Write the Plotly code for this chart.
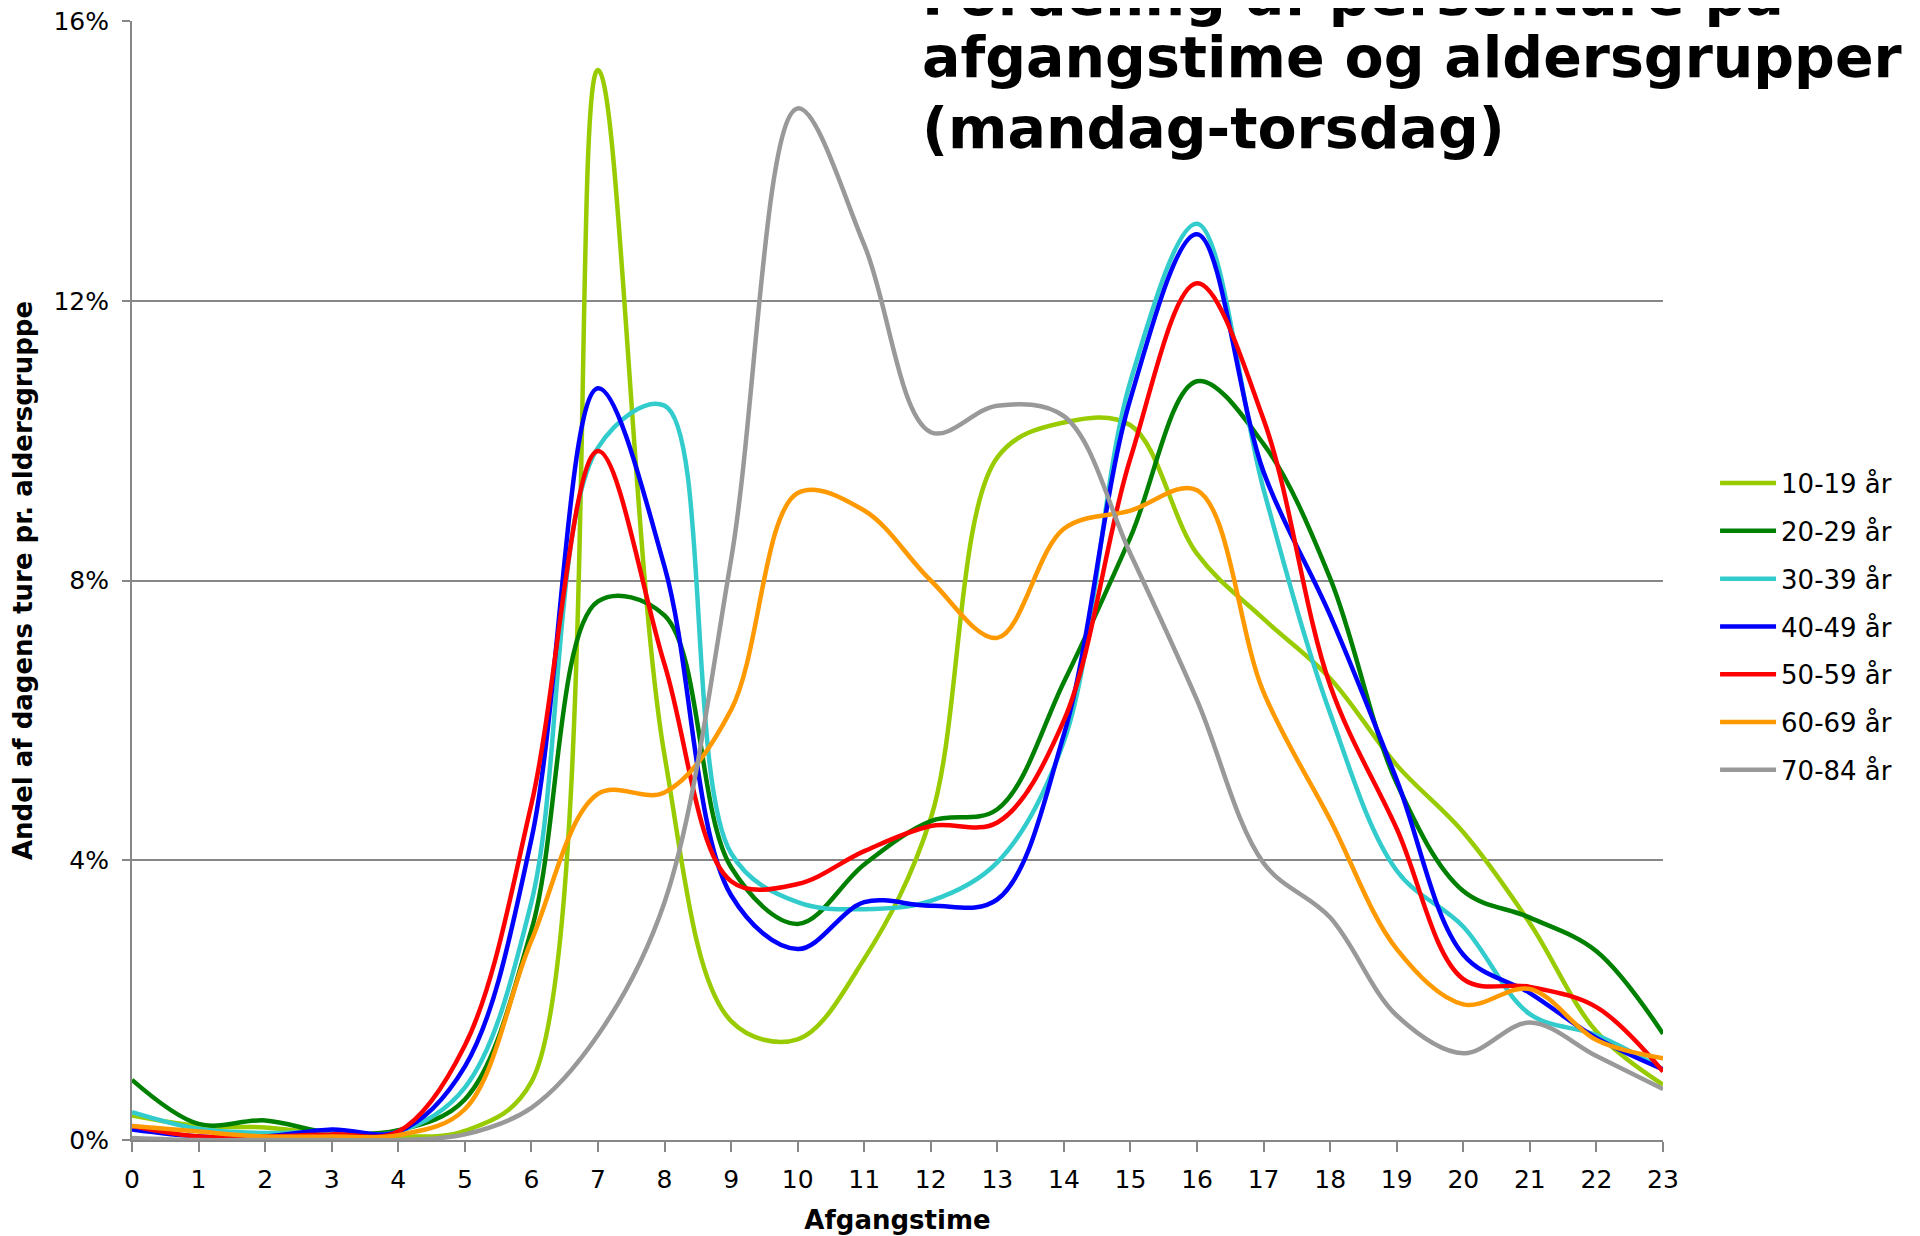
import plotly.graph_objects as go

hours = list(range(24))
hour_labels = [str(h) for h in hours]

series_names = ["10-19 år", "20-29 år", "30-39 år", "40-49 år", "50-59 år", "60-69 år", "70-84 år"]

v10_19 = [0.35, 0.2, 0.18, 0.08, 0.05, 0.13, 0.83, 15.3, 5.5, 1.7, 1.44, 2.59, 4.6, 9.76, 10.26, 10.22, 8.38, 7.45, 6.6, 5.36, 4.4, 3.1, 1.55, 0.79]
v20_29 = [0.86, 0.23, 0.28, 0.1, 0.14, 0.58, 3.0, 7.7, 7.5, 3.9, 3.09, 3.94, 4.56, 4.73, 6.55, 8.62, 10.85, 9.95, 8.03, 5.1, 3.56, 3.18, 2.7, 1.52]
v30_39 = [0.4, 0.16, 0.1, 0.12, 0.12, 0.75, 3.4, 9.9, 10.5, 4.1, 3.4, 3.3, 3.42, 3.97, 5.7, 10.85, 13.1, 9.3, 6.1, 3.85, 3.05, 1.8, 1.5, 1.01]
v40_49 = [0.15, 0.05, 0.05, 0.15, 0.12, 1.05, 4.3, 10.75, 8.2, 3.5, 2.73, 3.4, 3.35, 3.44, 5.8, 10.6, 12.95, 9.55, 7.5, 5.15, 2.65, 2.1, 1.46, 1.01]
v50_59 = [0.2, 0.05, 0.05, 0.08, 0.12, 1.35, 4.8, 9.85, 6.8, 3.7, 3.66, 4.13, 4.49, 4.54, 6.0, 9.75, 12.25, 10.3, 6.5, 4.45, 2.3, 2.19, 1.9, 0.98]
v60_69 = [0.2, 0.12, 0.05, 0.05, 0.07, 0.44, 2.85, 4.95, 4.97, 6.15, 9.25, 9.0, 8.0, 7.18, 8.74, 9.0, 9.29, 6.4, 4.58, 2.73, 1.94, 2.16, 1.43, 1.17]
v70_84 = [0.03, 0.0, 0.0, 0.0, 0.0, 0.08, 0.46, 1.5, 3.4, 8.3, 14.75, 12.8, 10.12, 10.5, 10.35, 8.38, 6.29, 3.96, 3.18, 1.78, 1.24, 1.68, 1.2, 0.73]

colors = ["#99CC00", "#008000", "#33CCCC", "#0000FF", "#FF0000", "#FF9900", "#999999"]
y_ticks = [0, 4, 8, 12, 16]
y_tick_labels = ["0%", "4%", "8%", "12%", "16%"]

title_lines = ["Fordeling af personture på", "afgangstime og aldersgrupper", "(mandag-torsdag)"]
x_title = "Afgangstime"
y_title = "Andel af dagens ture pr. aldersgruppe"

all_series = [v10_19, v20_29, v30_39, v40_49, v50_59, v60_69, v70_84]

FONT = "DejaVu Sans"
GRID = "#878787"

fig = go.Figure()
for name, vals, col in zip(series_names, all_series, colors):
    fig.add_trace(go.Scatter(
        x=hours, y=vals, name=name, mode="lines",
        line=dict(color=col, width=4.5, shape="spline", smoothing=1.0),
        legendgroup=name,
    ))

# first title line carries a white box that hides the end of the top gridline
title_y = [1.0233, 0.9678, 0.9044]
title_x = [0.5022, 0.5153, 0.5153]
title_pad = [20, 0, 0]
title_bg = ["white", "rgba(0,0,0,0)", "rgba(0,0,0,0)"]
annotations = []
for line_text, tx, ty, pad, bg in zip(title_lines, title_x, title_y, title_pad, title_bg):
    annotations.append(dict(
        text="<b>" + line_text + "</b>", xref="paper", yref="paper",
        x=tx, y=ty, xanchor="left", yanchor="middle", align="left",
        showarrow=False, bgcolor=bg, borderpad=pad,
        font=dict(family=FONT, size=57, color="#000000"),
    ))

fig.update_layout(
    width=1912, height=1228,
    paper_bgcolor="white", plot_bgcolor="white",
    margin=dict(l=124, r=257, t=13, b=96, autoexpand=False),
    font=dict(family=FONT, size=26, color="#000000"),
    showlegend=True,
    legend=dict(
        x=1.034, xanchor="left", y=0.608, yanchor="top",
        font=dict(family=FONT, size=26, color="#000000"),
        tracegroupgap=11, itemwidth=56,
        bgcolor="rgba(0,0,0,0)",
    ),
    xaxis=dict(
        range=[0, 23], tickmode="array", tickvals=hours, ticktext=hour_labels,
        showgrid=False, zeroline=False, automargin=False,
        showline=True, linecolor=GRID, linewidth=2,
        ticks="outside", ticklen=10, tickcolor=GRID, tickwidth=1.5,
        tickfont=dict(family=FONT, size=25, color="#000000"),
        ticklabelstandoff=6,
        title=dict(text="<b>" + x_title + "</b>", font=dict(family=FONT, size=26), standoff=18),
    ),
    yaxis=dict(
        range=[0, 16], tickmode="array", tickvals=y_ticks, ticktext=y_tick_labels,
        showgrid=True, gridcolor=GRID, gridwidth=1.5, zeroline=False, automargin=False,
        showline=True, linecolor=GRID, linewidth=2,
        ticks="outside", ticklen=8, tickcolor=GRID, tickwidth=1.5,
        tickfont=dict(family=FONT, size=25, color="#000000"),
        ticklabelstandoff=8, ticklabeloverflow="allow",
        title=dict(text="<b>" + y_title + "</b>", font=dict(family=FONT, size=26), standoff=18),
    ),
    annotations=annotations,
)

fig.write_html("out.html")
